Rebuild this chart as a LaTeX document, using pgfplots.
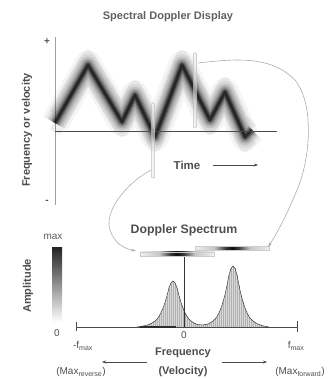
\documentclass[border=0pt]{standalone}
\usepackage{pgfplots}
\pgfplotsset{compat=1.18}
\usepackage{pgfplotstable}
\usepackage{fontspec}
\setmainfont{Liberation Sans}
\usetikzlibrary{arrows.meta}

\definecolor{txt}{HTML}{4E4E4E}
\definecolor{ln}{HTML}{4A4A4A}

\pgfdeclarehorizontalshading{specbar}{100bp}{color(0bp)=(gray!12); color(25bp)=(gray!12); color(38bp)=(gray!45); color(46bp)=(black!80); color(50bp)=(black!95); color(54bp)=(black!80); color(62bp)=(gray!45); color(75bp)=(gray!12); color(100bp)=(gray!12)}

% time (arbitrary units) vs Doppler frequency shift (arbitrary units)
\pgfplotstableread{
t f
0 8
33 66
67 9
80 36
100 -6
127 66
155 11
170 39
190 -6
197 1
}\tracedata

% Doppler spectrum: frequency (arb. units, 0 = no shift) vs amplitude
\pgfplotstableread{
x a
-47 0
-45 0.3
-43 0.6
-41 0.9
-39 1.4
-37 1.9
-35 2.5
-33 3.5
-31 4.6
-29 6.0
-27 7.8
-25 10.6
-23 14.3
-21 18.9
-19 24.4
-17 31.3
-15 39.1
-13 44.2
-11 46
-9 44.2
-7 39.1
-5 31.3
-3 24.4
-1 18.9
1 14.3
3 10.6
5 7.8
7 6.0
9 4.6
11 3.5
13 2.5
15 2.3
17 2.1
19 2.1
21 2.4
23 2.8
25 3.4
27 4.6
29 6.1
31 7.9
33 10.4
35 14.0
37 18.9
39 25.0
41 32.3
43 41.5
45 51.9
47 58.6
49 61
51 58.6
53 51.9
55 41.5
57 32.3
59 25.0
61 18.9
63 14.0
65 10.4
67 7.9
69 6.1
71 4.6
73 3.4
75 2.6
77 1.8
79 1.2
81 0.7
83 0.4
85 0
}\specdata

\begin{document}
\begin{tikzpicture}[font=\fontsize{11}{13}\selectfont\bfseries, every node/.style={text=txt, inner sep=0pt}]
\path[use as bounding box] (0pt,0pt) rectangle (329pt,379pt);

% ---------- Spectral Doppler display ----------
\begin{axis}[at={(55pt,174pt)}, anchor=south west, scale only axis,
  width=222pt, height=168pt, xmin=0, xmax=222, ymin=-74, ymax=94,
  hide axis, clip=false]
  \draw[gray!75, line width=0.8pt] (axis cs:0,-74) -- (axis cs:0,94);
  \addplot[black, opacity=0.06, line width=12pt, line join=round] table[y expr=\thisrow{f}+9] {\tracedata};
  \addplot[black, opacity=0.06, line width=12pt, line join=round] table[y expr=\thisrow{f}-9] {\tracedata};
  \addplot[black, opacity=0.04, line width=28pt, line join=round] table {\tracedata};
  \addplot[black, opacity=0.06, line width=22pt, line join=round] table {\tracedata};
  \addplot[black, opacity=0.09, line width=17pt, line join=round] table {\tracedata};
  \addplot[black, opacity=0.13, line width=13pt, line join=round] table {\tracedata};
  \addplot[black, opacity=0.18, line width=9.5pt, line join=round] table {\tracedata};
  \addplot[black, opacity=0.27, line width=6.5pt, line join=round] table {\tracedata};
  \addplot[black, opacity=0.38, line width=4pt, line join=round] table {\tracedata};
  \addplot[black, opacity=0.40, line width=2pt, line join=round] table {\tracedata};
  \draw[ln, line width=0.8pt] (axis cs:0,0) -- (axis cs:222,0);
  \draw[gray!50, fill=gray!15, fill opacity=0.6, line width=0.5pt, rounded corners=1pt] (axis cs:96.5,-47) rectangle (axis cs:99.5,28);
  \draw[gray!50, fill=gray!15, fill opacity=0.6, line width=0.5pt, rounded corners=1pt] (axis cs:138.5,3) rectangle (axis cs:141.5,78);
\end{axis}

% ---------- Doppler spectrum ----------
\begin{axis}[at={(76pt,52pt)}, anchor=south west, scale only axis,
  width=221pt, height=80pt, xmin=-108, xmax=113, ymin=0, ymax=80,
  hide axis, clip=false]
  \addplot[fill=gray!30, draw=none] table {\specdata} \closedcycle;
  \addplot[ycomb, gray!62, line width=0.35pt] table {\specdata};
  \addplot[gray!45!black, line width=0.5pt] table {\specdata};
  \draw[ln, line width=0.8pt] (axis cs:-108,0) -- (axis cs:113,0);
  \draw[ln, line width=0.8pt] (axis cs:-108,-4) -- (axis cs:-108,5);
  \draw[ln, line width=0.8pt] (axis cs:113,-5) -- (axis cs:113,6);
  \draw[gray!35!black, line width=1.1pt] (axis cs:-44,0) -- (axis cs:-8,0);
  \draw[black!80, line width=0.7pt] (axis cs:0,0) -- (axis cs:0,75);
\end{axis}

\begin{scope}[yshift=379pt, x=1pt, y=-1pt]
% spectrum grey-scale bars
\shadedraw[shading=specbar, draw=gray!40, line width=0.4pt] (195,246.5) rectangle (269,250.5);
\shadedraw[shading=specbar, draw=gray!40, line width=0.4pt] (140,252) rectangle (214,256);

% amplitude grey scale
\shade[top color=black!85, middle color=gray!55, bottom color=white] (52,248) rectangle (62,322);

% curved arrows
\draw[gray!65, line width=0.6pt, -{Stealth[length=5pt,width=3pt]}]
  (198,63) .. controls (235,59) and (270,55) .. (295,80)
  .. controls (315,105) and (310,160) .. (297,190)
  .. controls (288,212) and (278,232) .. (268,247);
\draw[gray!65, line width=0.6pt, -{Stealth[length=5pt,width=3pt]}]
  (151,170) .. controls (125,184) and (104,212) .. (110,230)
  .. controls (114,242) and (122,248) .. (136,251);

% texts
\node[text=gray!75!black] at (168,17) {Spectral Doppler Display};
\node[rotate=90] at (27,130) {Frequency or velocity};
\node[font=\fontsize{10}{12}\selectfont\bfseries] at (47,42) {+};
\node[font=\fontsize{10}{12}\selectfont\bfseries] at (47,202) {-};
\node[font=\fontsize{11.5}{13}\selectfont\bfseries] at (187,165) {Time};
\draw[ln, line width=0.6pt, -{Stealth[length=4pt,width=3pt]}] (213,165) -- (258,165);

\node[font=\fontsize{12.3}{15}\selectfont\bfseries] at (184,230) {Doppler Spectrum};
\node[font=\fontsize{10}{12}\selectfont, text=gray!70!black] at (53,237) {max};
\node[rotate=90] at (28,286) {Amplitude};
\node[font=\fontsize{10}{12}\selectfont] at (57,333) {0};
\node[font=\fontsize{10}{12}\selectfont] at (184,335) {0};
\node[font=\fontsize{10}{12}\selectfont] at (83,346) {-f\textsubscript{max}};
\node[font=\fontsize{10}{12}\selectfont] at (296,346) {f\textsubscript{max}};
\node at (183,353) {Frequency};
\node at (183,372) {(Velocity)};
\node[font=\fontsize{10}{12}\selectfont] at (81,372) {(Max\textsubscript{reverse})};
\node[font=\fontsize{10}{12}\selectfont] at (300,372) {(Max\textsubscript{forward})};
\draw[ln, line width=0.5pt, -{Stealth[length=4pt,width=3pt]}] (147,362) -- (102,362);
\draw[ln, line width=0.5pt, -{Stealth[length=4pt,width=3pt]}] (222,362) -- (267,362);
\end{scope}
\end{tikzpicture}
\end{document}
